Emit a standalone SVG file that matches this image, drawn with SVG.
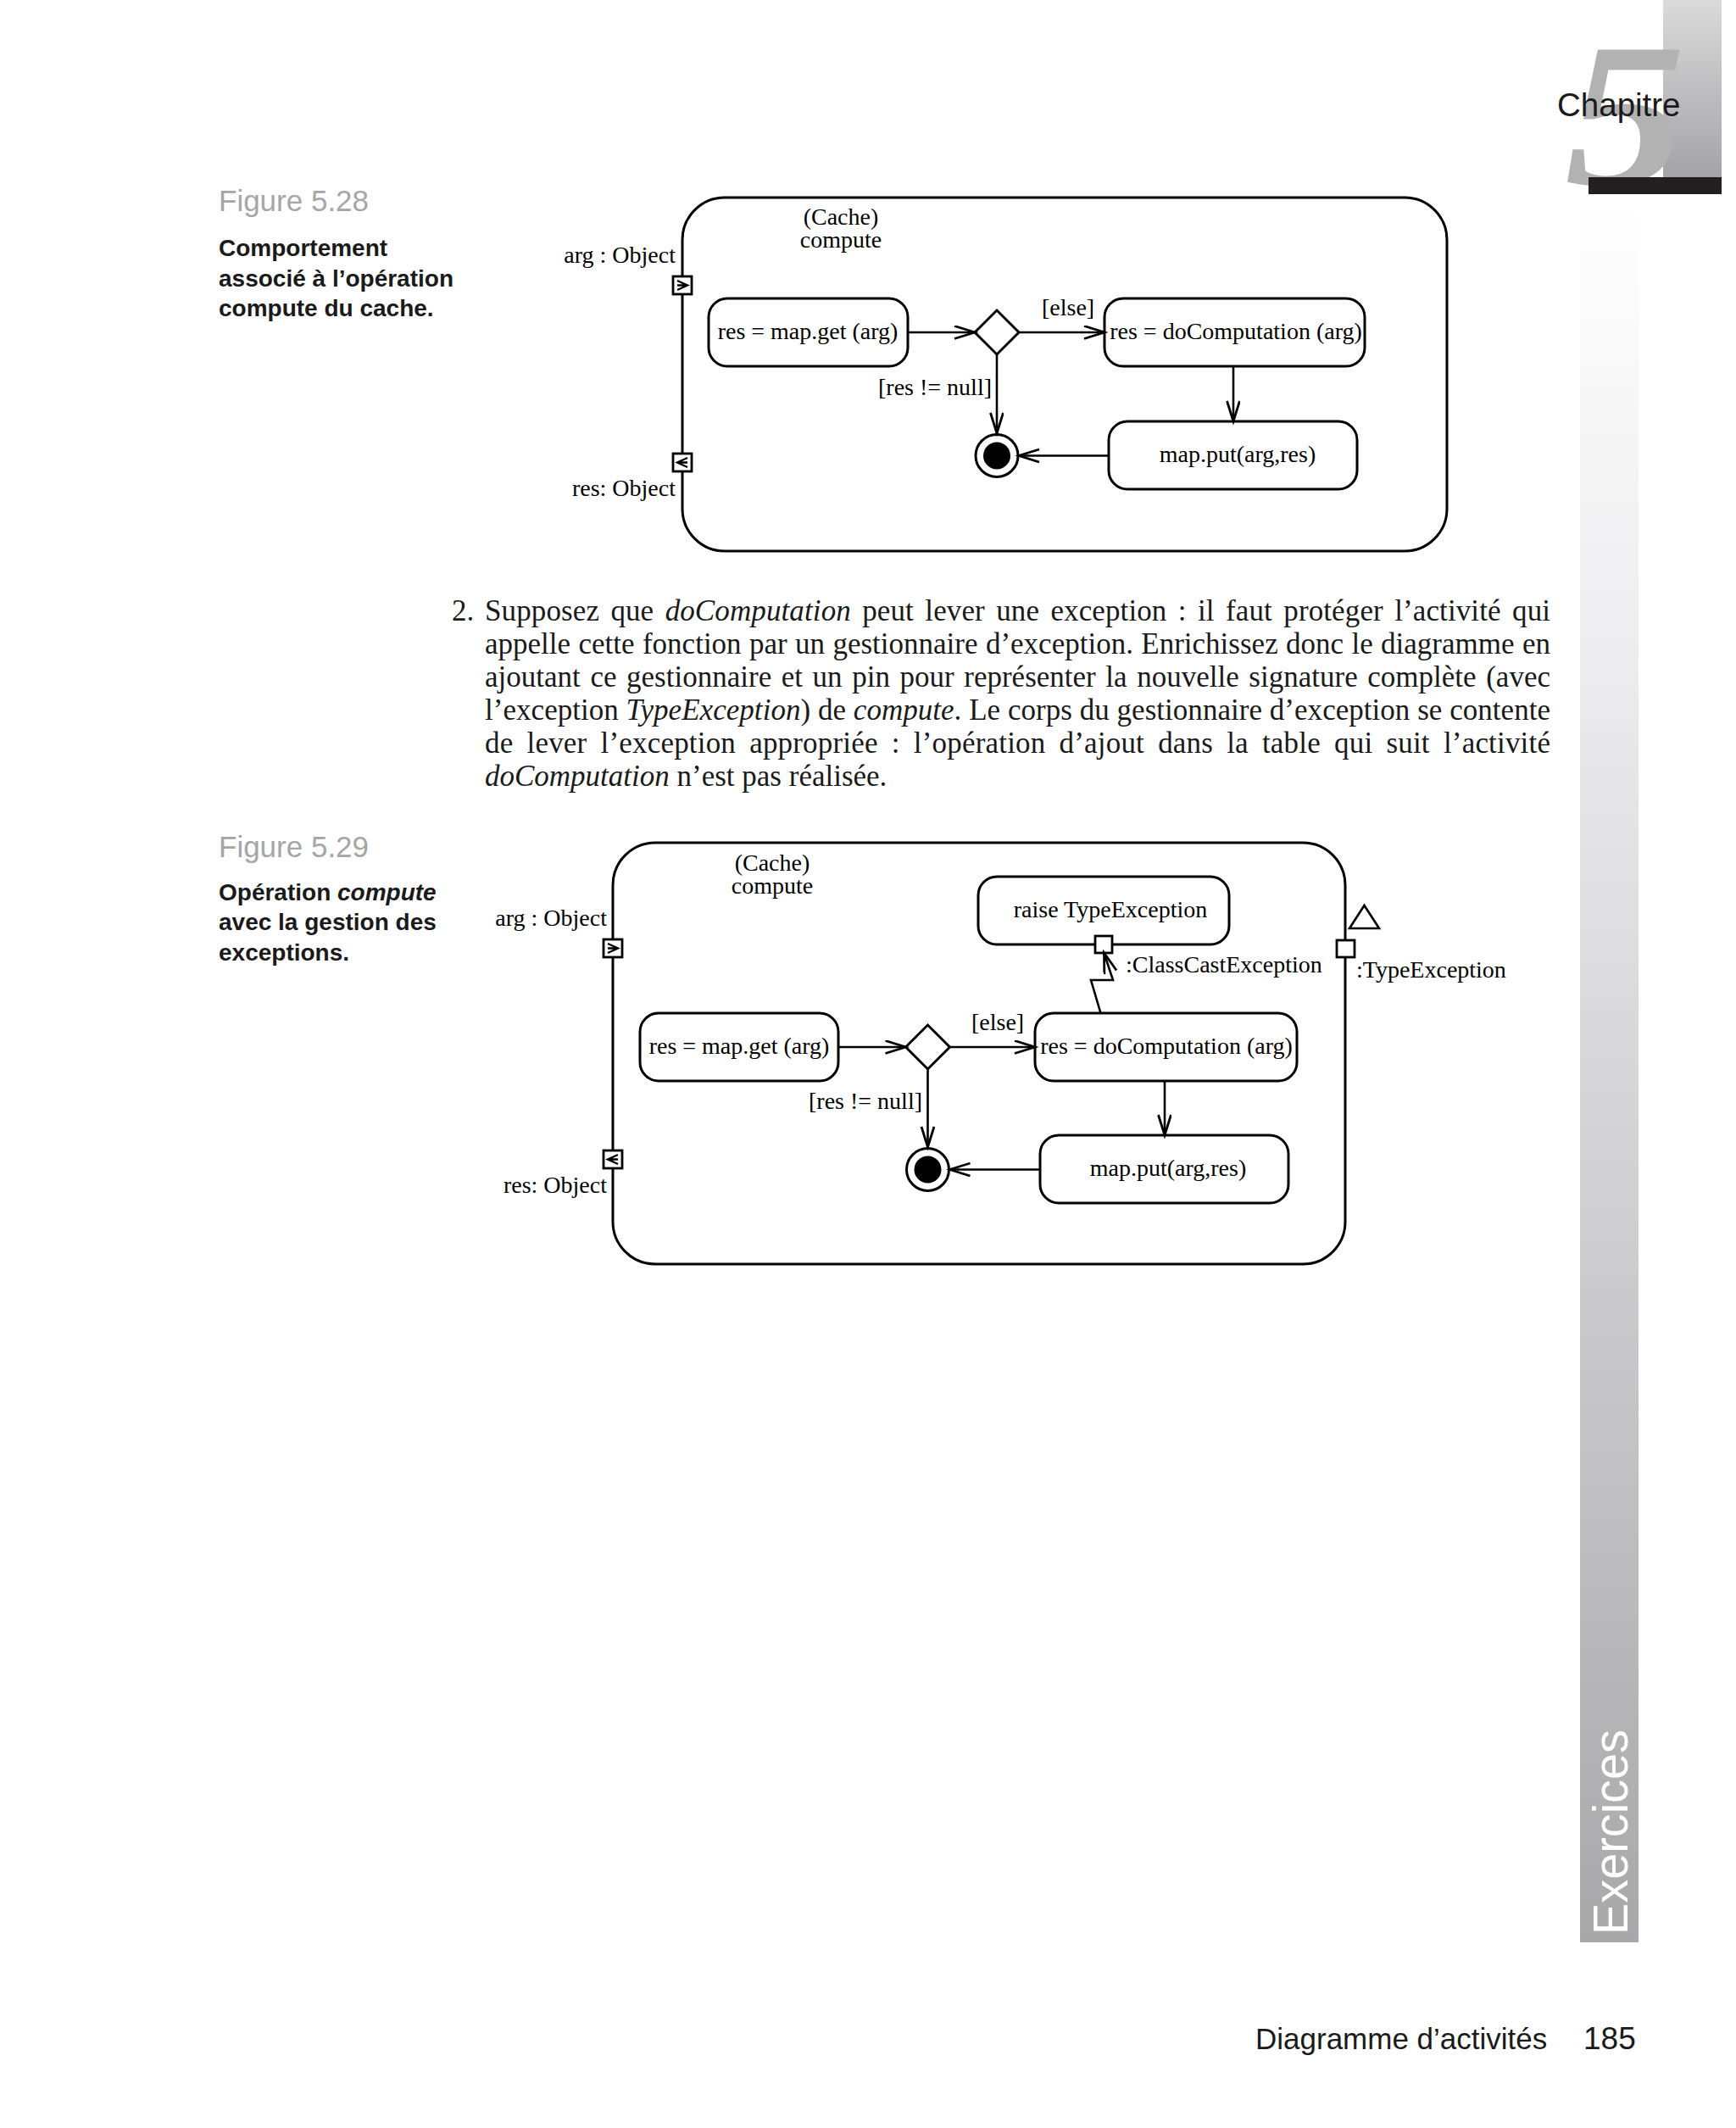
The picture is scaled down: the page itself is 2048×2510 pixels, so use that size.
<svg xmlns="http://www.w3.org/2000/svg" width="2048" height="2510" viewBox="0 0 2048 2510">
<defs>
<linearGradient id="topbar" x1="0" y1="0" x2="0" y2="1">
<stop offset="0" stop-color="#dadadb"/>
<stop offset="1" stop-color="#a4a4a6"/>
</linearGradient>
<linearGradient id="sidebar" x1="0" y1="0" x2="0" y2="1">
<stop offset="0" stop-color="#ffffff"/>
<stop offset="0.25" stop-color="#eeeef0"/>
<stop offset="1" stop-color="#a8a8aa"/>
</linearGradient>
<marker id="arr" markerUnits="userSpaceOnUse" markerWidth="30" markerHeight="20" refX="25" refY="8" orient="auto">
<path d="M1,0.5 L25,8 L1,15.5" fill="none" stroke="#000" stroke-width="2.8"/>
</marker>
</defs>
<style>
.frame{fill:#fff;stroke:#000;stroke-width:3}
.act{fill:#fff;stroke:#000;stroke-width:3}
.pin{fill:#fff;stroke:#000;stroke-width:2.8}
.con{fill:none;stroke:#000;stroke-width:2.6}
.dg{font-family:"Liberation Serif","Times New Roman",serif;font-size:28px;fill:#000}
.mid{text-anchor:middle}
.end{text-anchor:end}
.para{font-family:"Liberation Serif","Times New Roman",serif;font-size:35px;fill:#1a1a1a}
.it{font-style:italic}
.figno{font-family:"Liberation Sans",Arial,sans-serif;font-size:35px;fill:#a6a6a6}
.cap{font-family:"Liberation Sans",Arial,sans-serif;font-size:28px;font-weight:bold;fill:#1a1a1a}
.hdr{font-family:"Liberation Sans",Arial,sans-serif;fill:#1a1a1a}
</style>
<rect x="0" y="0" width="2048" height="2510" fill="#fff"/>

<!-- page decoration -->
<g id="chapter-header">
<rect x="1962" y="0" width="69" height="209" fill="url(#topbar)"/>
<text transform="translate(1846,217) scale(1.18,1)" x="0" y="0" font-family="Liberation Serif,serif" font-weight="bold" font-style="italic" font-size="242" fill="#b2b2b2">5</text>
<rect x="1874" y="209" width="157" height="20" fill="#231f20"/>
<text class="hdr" x="1837" y="137" font-size="38.5">Chapitre</text>
</g>
<g id="side-tab">
<rect x="1864" y="229" width="69" height="2062" fill="url(#sidebar)"/>
<text class="hdr" transform="translate(1920,2282) rotate(-90)" x="0" y="0" font-size="58" style="fill:#fff" textLength="242" lengthAdjust="spacingAndGlyphs">Exercices</text>
</g>
<g id="footer">
<text class="hdr" x="1481" y="2417" font-size="35">Diagramme d’activités</text>
<text class="hdr" x="1868" y="2417" font-size="37">185</text>
</g>

<!-- Figure 5.28 caption -->
<g id="caption-5-28">
<text class="figno" x="258" y="249">Figure 5.28</text>
<text class="cap" x="258" y="302">Comportement</text>
<text class="cap" x="258" y="338">associé à l’opération</text>
<text class="cap" x="258" y="373">compute du cache.</text>
</g>

<!-- Figure 5.28 diagram -->
<g id="fig528">
<g id="f1-frame">
<rect class="frame" x="805" y="233" width="902" height="417" rx="50" ry="50"/>
<text class="dg mid" x="992" y="265">(Cache)</text>
<text class="dg mid" x="992" y="292">compute</text>
</g>
<g id="f1-pin-arg">
<rect class="pin" x="794" y="326" width="22" height="21"/>
<path d="M799,331 L811,336.5 L799,342 M799,336.5 L811,336.5" fill="none" stroke="#000" stroke-width="2.4"/>
<text class="dg end" x="797" y="310">arg : Object</text>
</g>
<g id="f1-pin-res">
<rect class="pin" x="794" y="535" width="22" height="21"/>
<path d="M811,540 L799,545.5 L811,551 M811,545.5 L799,545.5" fill="none" stroke="#000" stroke-width="2.4"/>
<text class="dg end" x="797" y="585">res: Object</text>
</g>
<g id="f1-get">
<rect class="act" x="836" y="352" width="235" height="80" rx="22" ry="22"/>
<text class="dg mid" x="953" y="400">res = map.get (arg)</text>
</g>
<g id="f1-decision">
<polygon class="act" points="1150,392 1176,366 1202,392 1176,418"/>
</g>
<g id="f1-compute">
<rect class="act" x="1303" y="352" width="307" height="80" rx="22" ry="22"/>
<text class="dg mid" x="1458" y="400">res = doComputation (arg)</text>
</g>
<g id="f1-put">
<rect class="act" x="1308" y="497" width="293" height="80" rx="22" ry="22"/>
<text class="dg mid" x="1460" y="545">map.put(arg,res)</text>
</g>
<g id="f1-final">
<circle cx="1176" cy="537.5" r="25" fill="#fff" stroke="#000" stroke-width="3"/>
<circle cx="1176" cy="537.5" r="16" fill="#000"/>
</g>
<g id="f1-connectors">
<line class="con" x1="1071" y1="392" x2="1150" y2="392" marker-end="url(#arr)"/>
<line class="con" x1="1202" y1="392" x2="1303" y2="392" marker-end="url(#arr)"/>
<text class="dg" x="1229" y="372">[else]</text>
<line class="con" x1="1176" y1="418" x2="1176" y2="511" marker-end="url(#arr)"/>
<text class="dg end" x="1170" y="466">[res != null]</text>
<line class="con" x1="1455" y1="432" x2="1455" y2="497" marker-end="url(#arr)"/>
<line class="con" x1="1308" y1="537.5" x2="1202" y2="537.5" marker-end="url(#arr)"/>
</g>
</g>

<!-- paragraph -->
<g id="paragraph">
<text class="para" x="533" y="732">2.</text>
<text class="para" x="572" y="732" word-spacing="4.5" textLength="1257" lengthAdjust="spacing">Supposez que <tspan class="it">doComputation</tspan> peut lever une exception : il faut protéger l’activité qui</text>
<text class="para" x="572" y="771" word-spacing="0.6" textLength="1257" lengthAdjust="spacing">appelle cette fonction par un gestionnaire d’exception. Enrichissez donc le diagramme en</text>
<text class="para" x="572" y="810" word-spacing="2.8" textLength="1257" lengthAdjust="spacing">ajoutant ce gestionnaire et un pin pour représenter la nouvelle signature complète (avec</text>
<text class="para" x="572" y="849" textLength="1257" lengthAdjust="spacing">l’exception <tspan class="it">TypeException</tspan>) de <tspan class="it">compute</tspan>. Le corps du gestionnaire d’exception se contente</text>
<text class="para" x="572" y="888" word-spacing="7.2" textLength="1257" lengthAdjust="spacing">de lever l’exception appropriée : l’opération d’ajout dans la table qui suit l’activité</text>
<text class="para" x="572" y="927"><tspan class="it">doComputation</tspan> n’est pas réalisée.</text>
</g>

<!-- Figure 5.29 caption -->
<g id="caption-5-29">
<text class="figno" x="258" y="1011">Figure 5.29</text>
<text class="cap" x="258" y="1062">Opération <tspan font-style="italic">compute</tspan></text>
<text class="cap" x="258" y="1097">avec la gestion des</text>
<text class="cap" x="258" y="1133">exceptions.</text>
</g>

<!-- Figure 5.29 diagram -->
<g id="fig529">
<g id="f2-frame">
<rect class="frame" x="723" y="994" width="864" height="497" rx="50" ry="50"/>
<text class="dg mid" x="911" y="1027">(Cache)</text>
<text class="dg mid" x="911" y="1054">compute</text>
</g>
<g id="f2-pin-arg">
<rect class="pin" x="712" y="1108" width="22" height="21"/>
<path d="M717,1113 L729,1118.5 L717,1124 M717,1118.5 L729,1118.5" fill="none" stroke="#000" stroke-width="2.4"/>
<text class="dg end" x="716" y="1092">arg : Object</text>
</g>
<g id="f2-pin-res">
<rect class="pin" x="712" y="1357" width="22" height="21"/>
<path d="M729,1362 L717,1367.5 L729,1373 M729,1367.5 L717,1367.5" fill="none" stroke="#000" stroke-width="2.4"/>
<text class="dg end" x="716" y="1407">res: Object</text>
</g>
<g id="f2-pin-exc">
<rect class="pin" x="1577" y="1109" width="21" height="20"/>
<polygon points="1592,1095 1627,1095 1609.5,1068" fill="#fff" stroke="#000" stroke-width="2.6"/>
<text class="dg" x="1600" y="1153">:TypeException</text>
</g>
<g id="f2-raise">
<rect class="act" x="1154" y="1034" width="296" height="80" rx="22" ry="22"/>
<text class="dg mid" x="1310" y="1082">raise TypeException</text>
<rect class="pin" x="1292" y="1104" width="20" height="20"/>
<text class="dg" x="1328" y="1147">:ClassCastException</text>
</g>
<g id="f2-get">
<rect class="act" x="755" y="1195" width="234" height="80" rx="22" ry="22"/>
<text class="dg mid" x="872" y="1243">res = map.get (arg)</text>
</g>
<g id="f2-decision">
<polygon class="act" points="1068.5,1235 1094.5,1209 1120.5,1235 1094.5,1261"/>
</g>
<g id="f2-compute">
<rect class="act" x="1221" y="1195" width="309" height="80" rx="22" ry="22"/>
<text class="dg mid" x="1376" y="1243">res = doComputation (arg)</text>
</g>
<g id="f2-put">
<rect class="act" x="1227" y="1339" width="293" height="80" rx="22" ry="22"/>
<text class="dg mid" x="1378" y="1387">map.put(arg,res)</text>
</g>
<g id="f2-final">
<circle cx="1094.5" cy="1379.5" r="25" fill="#fff" stroke="#000" stroke-width="3"/>
<circle cx="1094.5" cy="1379.5" r="16" fill="#000"/>
</g>
<g id="f2-connectors">
<line class="con" x1="989" y1="1235" x2="1068.5" y2="1235" marker-end="url(#arr)"/>
<line class="con" x1="1120.5" y1="1235" x2="1221" y2="1235" marker-end="url(#arr)"/>
<text class="dg" x="1146" y="1215">[else]</text>
<line class="con" x1="1094.5" y1="1261" x2="1094.5" y2="1353" marker-end="url(#arr)"/>
<text class="dg end" x="1088" y="1308">[res != null]</text>
<line class="con" x1="1374" y1="1275" x2="1374" y2="1339" marker-end="url(#arr)"/>
<line class="con" x1="1227" y1="1379.5" x2="1120.5" y2="1379.5" marker-end="url(#arr)"/>
<path class="con" d="M1298.5,1195 L1287,1156 L1313,1156 L1302.5,1124" marker-end="url(#arr)"/>
</g>
</g>
</svg>
